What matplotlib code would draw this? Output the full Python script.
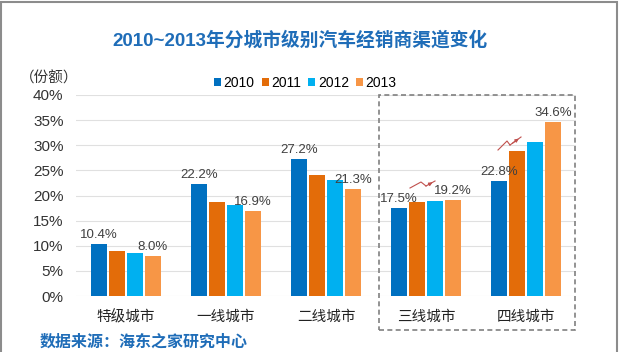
import numpy as np
import matplotlib.pyplot as plt
from matplotlib.patches import Rectangle

plt.rcParams['font.family'] = ['Liberation Sans', 'Noto Sans CJK SC']

# data
cities = ['特级城市', '一线城市', '二线城市', '三线城市', '四线城市']
years = ['2010', '2011', '2012', '2013']
v2010 = [10.4, 22.2, 27.2, 17.5, 22.8]
v2011 = [9.0, 18.8, 24.0, 18.7, 28.9]
v2012 = [8.6, 18.1, 23.1, 19.0, 30.7]
v2013 = [8.0, 16.9, 21.3, 19.2, 34.6]
yticks = [0, 5, 10, 15, 20, 25, 30, 35, 40]

colors = ['#0070C0', '#E36C09', '#00B0F0', '#F79646']
series = [v2010, v2011, v2012, v2013]

W, H = 620, 352
fig = plt.figure(figsize=(W / 100, H / 100), dpi=100)
ax = fig.add_axes([76 / W, 1 - 296 / H, 500 / W, 201 / H])

x = np.arange(len(cities))
bw = 0.16
step = 0.18
for i, (vals, col) in enumerate(zip(series, colors)):
    ax.bar(x + (i - 1.5) * step, vals, bw, color=col, label=years[i], zorder=3)

# labels only on first and last year
for i in [0, 3]:
    for xi, v in zip(x, series[i]):
        ax.text(xi + (i - 1.5) * step, v + 0.6, f'{v:.1f}%', ha='center', va='bottom',
                fontsize=9.5, color='#404040', zorder=4)

ax.set_xlim(-0.5, len(cities) - 0.5)
ax.set_ylim(0, 40)
ax.set_yticks(yticks)
ax.set_yticklabels([f'{t}%' for t in yticks], fontsize=11, color='#333333')
ax.set_xticks(x)
ax.set_xticklabels(cities, fontsize=10.5, color='#222222')
ax.tick_params(length=0)
ax.tick_params(axis='x', pad=10)
ax.tick_params(axis='y', pad=9)
ax.grid(axis='y', color='#E0E0E0', linewidth=0.8, zorder=0)
for s in ax.spines.values():
    s.set_visible(False)

ax.legend(loc='upper left', bbox_to_anchor=(207 / W, 1 - 69 / H), bbox_transform=fig.transFigure,
          ncol=4, frameon=False, fontsize=10, handlelength=0.5, handleheight=0.5,
          handletextpad=0.2, columnspacing=0.5, borderpad=0)

# dashed highlight box
fig.patches.append(Rectangle((379 / W, 1 - 330 / H), 196 / W, 235 / H, transform=fig.transFigure,
                             fill=False, edgecolor='#808080', linestyle=(0, (3, 2)), linewidth=1.2))

# small red trend arrows
for pts in [[(410, 188), (421, 182), (426, 186), (435, 181)],
            [(498, 150), (507, 141), (510, 145), (521, 137)]]:
    xs = [p[0] / W for p in pts]
    ys = [1 - p[1] / H for p in pts]
    fig.add_artist(plt.Line2D(xs[:-1], ys[:-1], color='#C0504D', linewidth=0.8, transform=fig.transFigure))
    fig.add_artist(plt.Line2D(xs[-2:], ys[-2:], color='#C0504D', linewidth=0.8, transform=fig.transFigure))
    ax.annotate('', xy=(xs[-1], ys[-1]), xytext=(xs[-2], ys[-2]), xycoords='figure fraction',
                textcoords='figure fraction',
                arrowprops=dict(arrowstyle='-|>', color='#C0504D', lw=0.8, mutation_scale=5))

fig.text(300 / W, 1 - 40 / H, '2010~2013年分城市级别汽车经销商渠道变化', ha='center', va='center',
         fontsize=13.5, fontweight='bold', color='#1F6DB8')
fig.text(20 / W, 1 - 78 / H, '（份额）', ha='left', va='center', fontsize=10.5, color='#333333')
fig.text(40 / W, 1 - 342 / H, '数据来源：海东之家研究中心', ha='left', va='center',
         fontsize=11.5, fontweight='bold', color='#1F6DB8')

# outer frame
fig.patches.append(Rectangle((1 / W, -0.1), 616 / W, 1 - 1.5 / H + 0.1, transform=fig.transFigure,
                             fill=False, edgecolor='#8C8C8C', linewidth=1.5))

fig.savefig('out.png', dpi=100)
